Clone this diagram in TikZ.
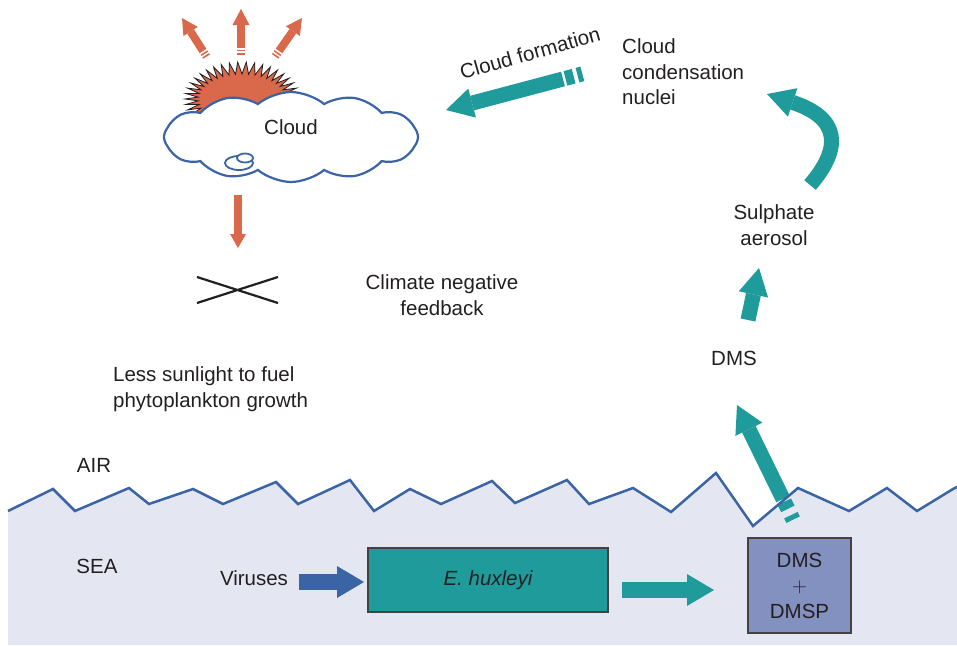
\documentclass[tikz,border=0pt]{standalone}
\usepackage{fontspec}
\setmainfont{Liberation Sans}
\usetikzlibrary{arrows.meta,calc,shapes.symbols}
\definecolor{tealc}{HTML}{1F9B9B}
\definecolor{orangec}{HTML}{D9694A}
\definecolor{bluec}{HTML}{3A64A4}
\definecolor{seac}{HTML}{E4E7F1}
\definecolor{dmsc}{HTML}{8391C1}
\definecolor{ink}{HTML}{231F20}
\begin{document}
\begin{tikzpicture}[x=1pt,y=-1pt,
  lbl/.style={font=\fontsize{20.5}{25.5}\selectfont, text=ink, inner sep=0pt},
  tealarrow/.style={draw=tealc, line width=15pt,
    -{Triangle[width=30pt,length=27pt,line width=0pt]}},
  tealbar/.style={draw=tealc, line width=15pt},
  orangearrow/.style={draw=orangec, line width=8pt,
    -{Triangle[width=17pt,length=16pt,line width=0pt]}},
  orangebar/.style={draw=orangec, line width=8pt},
  flatarrow/.style={line width=16pt,
    -{Triangle[width=32pt,length=27pt,line width=0pt]}},
  box/.style={draw=ink!85, line width=1.5pt, inner sep=0pt},
]
\useasboundingbox (0,0) rectangle (957,645);

% sea with wavy surface
\fill[seac] (8,511) -- (53,489) -- (75,511) -- (129,488) -- (149,504) -- (193,489)
  -- (223,504) -- (276,482) -- (298,504) -- (350,480) -- (374,511) -- (410,489)
  -- (441,504) -- (492,481) -- (515,503) -- (567,480) -- (589,504) -- (633,488)
  -- (671,512) -- (716,473) -- (753,526) -- (798,488) -- (849,511) -- (887,488)
  -- (917,511) -- (953,489) -- (957,487) -- (957,645) -- (8,645) -- cycle;

% DMS escaping from the sea surface
\coordinate (dmsT) at (783,499);
\coordinate (dmsP) at (737,405);
\draw[tealarrow] (dmsT) -- (dmsP);
\draw[tealbar] ($(dmsT)!-3pt!(dmsP)$) -- ($(dmsT)!-11pt!(dmsP)$);
\draw[tealbar] ($(dmsT)!-18pt!(dmsP)$) -- ($(dmsT)!-23pt!(dmsP)$);

\draw[bluec, line width=2.5pt, line join=miter] (8,511) -- (53,489) -- (75,511) -- (129,488) -- (149,504) -- (193,489)
  -- (223,504) -- (276,482) -- (298,504) -- (350,480) -- (374,511) -- (410,489)
  -- (441,504) -- (492,481) -- (515,503) -- (567,480) -- (589,504) -- (633,488)
  -- (671,512) -- (716,473) -- (753,526) -- (798,488) -- (849,511) -- (887,488)
  -- (917,511) -- (953,489) -- (957,487);

% sun behind the cloud
\path[draw=ink, fill=orangec, line width=0.8pt] (299,99)
  \foreach \i in {1,...,83} { -- ({242+(isodd(\i)?44:57)*cos(360/84*\i)},{99+(isodd(\i)?25:37)*sin(360/84*\i)}) } -- cycle;

% radiation reflected upwards
\coordinate (rLT) at (203,51);  \coordinate (rLP) at (182,18);
\coordinate (rMT) at (241,48);  \coordinate (rMP) at (241,9);
\coordinate (rRT) at (279,51);  \coordinate (rRP) at (302,18);
\foreach \t/\p in {rLT/rLP, rMT/rMP, rRT/rRP} {
  \draw[orangearrow] (\t) -- (\p);
  \draw[orangebar] ($(\t)!-1.8pt!(\p)$) -- ($(\t)!-3.4pt!(\p)$);
  \draw[orangebar] ($(\t)!-5pt!(\p)$) -- ($(\t)!-6.6pt!(\p)$);
}

% cloud
\node[cloud, cloud puffs=12, cloud puff arc=80, aspect=2.8, draw=bluec, fill=white,
  line width=2.2pt, inner sep=0pt, minimum width=254pt, minimum height=90pt]
  (cloud) at (291,137) {};
\draw[bluec, line width=1.8pt, fill=white] (239,163) ellipse [x radius=14, y radius=7];
\draw[bluec, line width=1.8pt, fill=white] (245,158) ellipse [x radius=8, y radius=4.5];
\node[lbl] (cloudlbl) at (291,127) {Cloud};

% less sunlight reaching the sea
\coordinate (sunT) at (238,195);
\coordinate (sunP) at (238,248);
\draw[draw=orangec, line width=8pt, -{Triangle[width=16pt,length=14pt,line width=0pt]}] (sunT) -- (sunP);
\coordinate (x1) at (197,277); \coordinate (x2) at (278,303);
\coordinate (x3) at (197,303); \coordinate (x4) at (278,277);
\draw[ink, line width=2.2pt] (x1) -- (x2) (x3) -- (x4);

% texts
\node[lbl, align=center] (feedback) at (442,295) {Climate negative\\feedback};
\node[lbl, align=left, anchor=west] (less) at (113,389) {Less sunlight to fuel\\phytoplankton growth};
\node[lbl, align=left, anchor=west] (ccn) at (622,72) {Cloud\\condensation\\nuclei};
\node[lbl, align=center] (sulph) at (774,225) {Sulphate\\aerosol};
\node[lbl] (dms) at (734,358) {DMS};
\node[lbl] (air) at (94,465) {AIR};
\node[lbl] (sea) at (97,566) {SEA};
\node[lbl] (vir) at (254,578) {Viruses};

% cloud formation
\coordinate (cfT) at (563,79);
\coordinate (cfP) at (446,110);
\draw[tealarrow] (cfT) -- (cfP);
\draw[tealbar] ($(cfT)!-2.5pt!(cfP)$) -- ($(cfT)!-11pt!(cfP)$);
\draw[tealbar] ($(cfT)!-15pt!(cfP)$) -- ($(cfT)!-20pt!(cfP)$);
\node[lbl, rotate=16] (cftext) at (530,53) {Cloud formation};

% sulphate aerosol to condensation nuclei
\coordinate (caT) at (810,185);
\coordinate (caP) at (767,94);
\draw[tealarrow] (caT) .. controls (842,148) and (840,118) .. (caP);

% DMS to sulphate aerosol
\coordinate (dsT) at (748,320);
\coordinate (dsP) at (759,268);
\draw[tealarrow] (dsT) -- (dsP);

% sea compartments
\node[box, fill=tealc, minimum width=240pt, minimum height=64pt, font=\fontsize{20.5}{25.5}\selectfont\itshape, text=ink]
  (ehux) at (488,580) {E. huxleyi};
\node[box, fill=dmsc, minimum width=103pt, minimum height=95pt, align=center,
  font=\fontsize{20.5}{25.5}\selectfont, text=ink] (dmsbox) at (799.5,585.5) {DMS\\$+$\\DMSP};

\coordinate (vT) at (299,582);
\coordinate (vP) at (364,582);
\draw[flatarrow, draw=bluec] (vT) -- (vP);
\coordinate (eT) at (622,590);
\coordinate (eP) at (714,590);
\draw[flatarrow, draw=tealc] (eT) -- (eP);
\end{tikzpicture}
\end{document}
